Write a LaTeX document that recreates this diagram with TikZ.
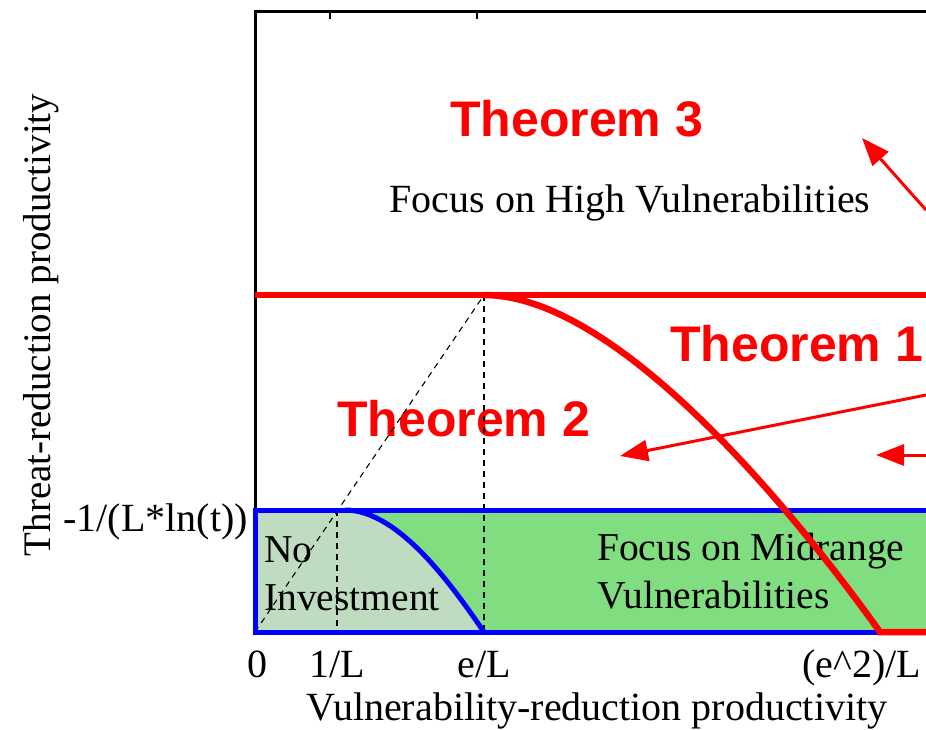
\documentclass[tikz,border=0pt]{standalone}
\usepackage{fontspec}
\setmainfont{Liberation Serif}
\newfontfamily\thmfont{Liberation Sans}
\usetikzlibrary{arrows.meta,positioning}
\definecolor{lowgreen}{RGB}{192,220,192}
\definecolor{midgreen}{RGB}{128,221,128}

\begin{document}
\begin{tikzpicture}[x=1pt,y=-1pt,
    every node/.style={font=\fontsize{40}{46}\selectfont, inner sep=0pt},
    region/.style={font=\fontsize{39.5}{48}\selectfont, align=left, anchor=base west},
    thm/.style={font=\thmfont\bfseries\fontsize{50}{56}\selectfont, text=red, anchor=base west},
    axis/.style={line width=3pt, black},
    guide/.style={line width=1.1pt, dash pattern=on 6pt off 5pt},
    border/.style={line width=5pt, blue},
    bound/.style={line width=6.5pt, red},
    pointer/.style={-{Triangle[length=28pt,width=21pt]}, line width=3pt, red}
]
\useasboundingbox (0,0) rectangle (926,730);

% regions
\fill[midgreen] (255,510) rectangle (926,632);
\fill[lowgreen] (255,632) -- (255,510) -- (345,510)
    .. controls (400,510) and (455,590) .. (484,632) -- cycle;

% region texts
\node[thm] (t3) at (450,137) {Theorem 3};
\node[anchor=base] (high) at (630,212) {Focus on High Vulnerabilities};
\node[thm] (t1) at (670,361) {Theorem 1};
\node[thm] (t2) at (337,436) {Theorem 2};
\node[region] (none) at (264,610) {No\\Investment};
\node[region] (mid) at (597,608) {Focus on Midrange\\Vulnerabilities};

% guides
\draw[guide] (337,510) -- (337,632);
\draw[guide] (484,295) -- (484,632);
\draw[guide] (255,632) -- (484,295);

% axes
\draw[axis] (926,12) -- (255,12) -- (255,632);
\foreach \x in {330,477}
    \draw[axis, line width=2pt] (\x,12) -- (\x,19);

% lower bound
\draw[border] (926,510) -- (255,510) -- (255,632) -- (926,632);
\draw[border] (345,510) .. controls (400,510) and (455,590) .. (484,632);

% upper bound
\draw[bound] (255,295) -- (926,295);
\draw[bound] (484,295) .. controls (620,295) and (800,520) .. (880,632) -- (926,632);

% pointers
\coordinate (p3) at (926,210);
\coordinate (p2) at (926,395);
\coordinate (p1) at (926,455);
\coordinate (h3) at (862,138);
\coordinate (h2) at (620,456);
\coordinate (h1) at (876,455);
\draw[pointer] (p3) -- (h3);
\draw[pointer] (p2) -- (h2);
\draw[pointer] (p1) -- (h1);

% tick labels
\foreach \x/\lbl in {257/0, 337/{1/L}, 484/{e/L}, 862/{(e\textasciicircum2)/L}}
    \node[anchor=base] at (\x,677) {\lbl};
\node[anchor=base east] (ylev) at (248,531) {-1/(L*ln(t))};

% axis labels
\node[anchor=base] (xlab) at (597,720) {Vulnerability-reduction productivity};
\node[anchor=base, rotate=90, font=\fontsize{39}{46}\selectfont] (ylab) at (50,325) {Threat-reduction productivity};
\end{tikzpicture}
\end{document}
